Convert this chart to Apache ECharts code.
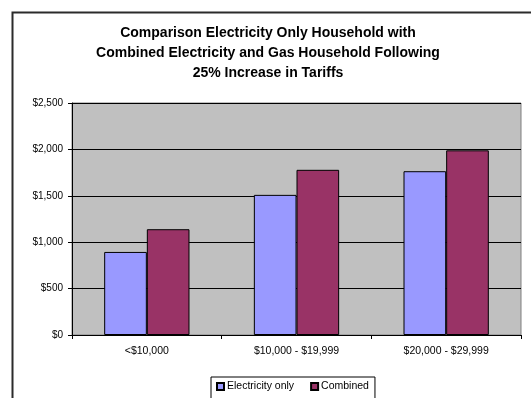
<!DOCTYPE html>
<html>
<head>
<meta charset="utf-8">
<script src="https://cdn.jsdelivr.net/npm/echarts@6/dist/echarts.min.js"></script>
<style>
  html, body { margin: 0; padding: 0; background: #fff; }
  #chart { width: 531px; height: 398px; }
</style>
</head>
<body>
<div id="chart"></div>
<script>
// Household income bands
const categories = ['<$10,000', '$10,000 - $19,999', '$20,000 - $29,999'];
// Annual energy cost after a 25% tariff rise ($)
const electricityOnly = [895, 1510, 1765];
const combined = [1140, 1780, 1990];
const seriesNames = ['Electricity only', 'Combined'];
// Value axis ticks
const yTicks = [0, 500, 1000, 1500, 2000, 2500];

const FONT = '"Liberation Sans", Arial, sans-serif';
const money = v => '$' + v.toLocaleString('en-US');

const chart = echarts.init(document.getElementById('chart'), null, { renderer: 'canvas' });

chart.setOption({
  animation: false,
  backgroundColor: '#ffffff',
  title: {
    text: 'Comparison Electricity Only Household with\nCombined Electricity and Gas Household Following\n25% Increase in Tariffs',
    left: 268,
    top: 23,
    textAlign: 'center',
    padding: 0,
    textStyle: {
      fontFamily: FONT,
      fontSize: 14,
      fontWeight: 'bold',
      color: '#000',
      lineHeight: 20
    }
  },
  graphic: [{
    type: 'rect',
    silent: true,
    z: -1,
    shape: { x: 12.5, y: 12.5, width: 560, height: 420 },
    style: { fill: null, stroke: '#2b2b2b', lineWidth: 2 }
  }],
  legend: {
    data: seriesNames,
    left: 211,
    top: 377,
    itemWidth: 7,
    itemHeight: 7,
    itemGap: 16,
    icon: 'rect',
    padding: [4, 6, 14, 5],
    borderColor: '#000',
    borderWidth: 1,
    backgroundColor: '#fff',
    textStyle: { fontFamily: FONT, fontSize: 10.5, color: '#000', padding: [0, 0, 0, -2] }
  },
  grid: {
    left: 72,
    right: 10,
    top: 103,
    bottom: 63,
    show: true,
    backgroundColor: '#C0C0C0',
    borderColor: '#808080',
    borderWidth: 1
  },
  xAxis: {
    type: 'category',
    data: categories,
    axisLine: { show: true, lineStyle: { color: '#000', width: 1 } },
    axisTick: { show: true, alignWithLabel: false, length: 4, lineStyle: { color: '#000' } },
    axisLabel: { fontFamily: FONT, fontSize: 10.5, color: '#000', margin: 11 },
    splitLine: { show: false }
  },
  yAxis: {
    type: 'value',
    min: yTicks[0],
    max: yTicks[yTicks.length - 1],
    interval: yTicks[1] - yTicks[0],
    axisLine: { show: true, lineStyle: { color: '#000', width: 1 } },
    axisTick: { show: true, length: 4, lineStyle: { color: '#000' } },
    axisLabel: { fontFamily: FONT, fontSize: 10, color: '#000', margin: 9, formatter: money },
    splitLine: { show: true, lineStyle: { color: '#000', width: 1 } }
  },
  series: [
    {
      name: seriesNames[0],
      type: 'bar',
      data: electricityOnly,
      barGap: '0%',
      barCategoryGap: '43%',
      itemStyle: { color: '#9999FF', borderColor: '#000', borderWidth: 1 }
    },
    {
      name: seriesNames[1],
      type: 'bar',
      data: combined,
      barGap: '0%',
      barCategoryGap: '43%',
      itemStyle: { color: '#993366', borderColor: '#000', borderWidth: 1 }
    }
  ]
});
</script>
</body>
</html>
